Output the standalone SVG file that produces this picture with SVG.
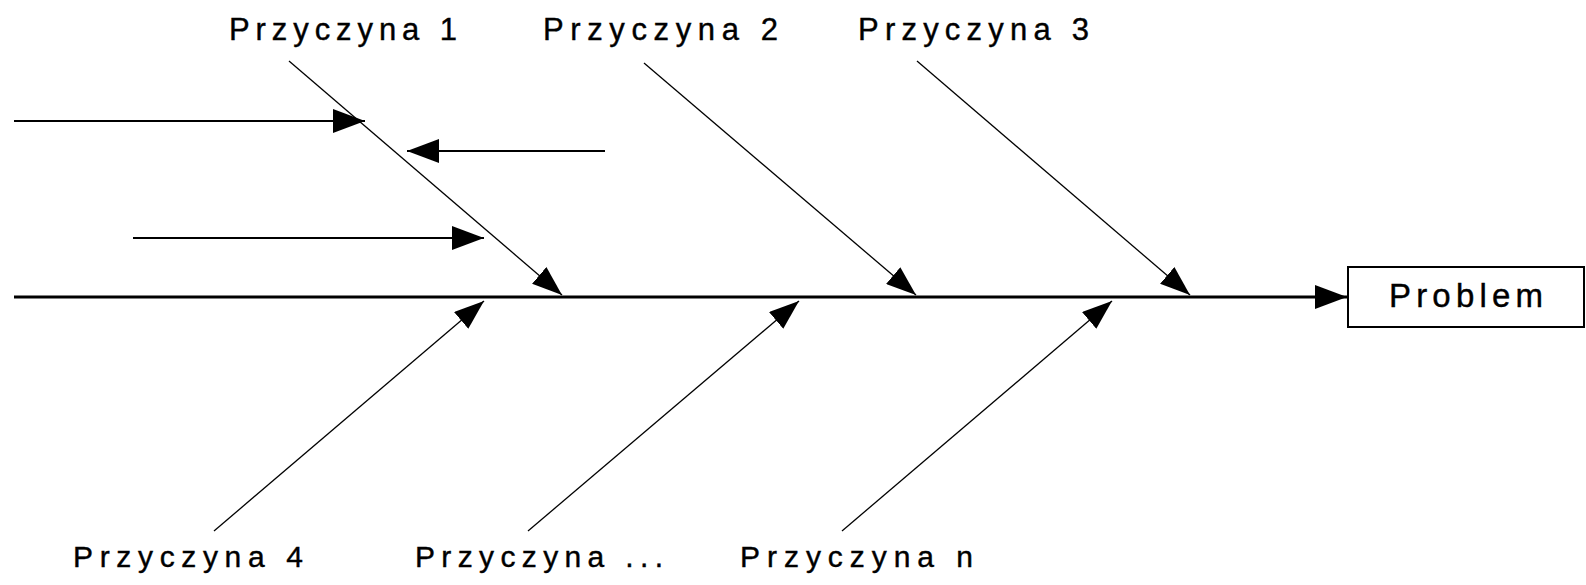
<svg xmlns="http://www.w3.org/2000/svg" width="1586" height="585" viewBox="0 0 1586 585">
<style>
.bg{fill:#ffffff}
.spine{stroke:#000;stroke-width:3;fill:none}
.h{stroke:#000;stroke-width:2;fill:none}
.d{stroke:#000;stroke-width:1.3;fill:none}
.box{fill:#fff;stroke:#000;stroke-width:2}
.lbl{font-family:"Liberation Sans",Arial,sans-serif;font-size:31px;fill:#000;stroke:#000;stroke-width:0.4}
.lblb{font-family:"Liberation Sans",Arial,sans-serif;font-size:30px;fill:#000;stroke:#000;stroke-width:0.4}
.prob{font-family:"Liberation Sans",Arial,sans-serif;font-size:33px;fill:#000;stroke:#000;stroke-width:0.4}
</style>
<defs>
<marker id="ah" viewBox="0 0 32 24" refX="32" refY="12" markerWidth="32" markerHeight="24" orient="auto" markerUnits="userSpaceOnUse">
<path d="M0,0 L32,12 L0,24 Z" fill="#000"/>
</marker>
<marker id="ahd" viewBox="0 0 30 22" refX="30" refY="11" markerWidth="30" markerHeight="22" orient="auto" markerUnits="userSpaceOnUse">
<path d="M0,0 L30,11 L0,22 Z" fill="#000"/>
</marker>
</defs>
<rect class="bg" x="0" y="0" width="1586" height="585"/>
<g id="connectors">
<line class="spine" x1="14" y1="297" x2="1347" y2="297" marker-end="url(#ah)"/>
<line class="h" x1="14" y1="121" x2="365" y2="121" marker-end="url(#ah)"/>
<line class="h" x1="605" y1="151" x2="407" y2="151" marker-end="url(#ah)"/>
<line class="h" x1="133" y1="238" x2="484" y2="238" marker-end="url(#ah)"/>
<line class="d" x1="289" y1="61" x2="562" y2="295" marker-end="url(#ahd)"/>
<line class="d" x1="644" y1="63" x2="916" y2="295" marker-end="url(#ahd)"/>
<line class="d" x1="917" y1="61" x2="1190" y2="295" marker-end="url(#ahd)"/>
<line class="d" x1="214" y1="531" x2="484" y2="301" marker-end="url(#ahd)"/>
<line class="d" x1="528" y1="531" x2="799" y2="301" marker-end="url(#ahd)"/>
<line class="d" x1="842" y1="531" x2="1112" y2="301" marker-end="url(#ahd)"/>
</g>
<g id="problem">
<rect class="box" x="1348" y="267" width="236" height="60"/>
<text class="prob" x="1389" y="307" textLength="154" lengthAdjust="spacing">Problem</text>
</g>
<g id="cause1"><text class="lbl" x="229" y="40" textLength="228" lengthAdjust="spacing">Przyczyna 1</text></g>
<g id="cause2"><text class="lbl" x="543" y="40" textLength="235" lengthAdjust="spacing">Przyczyna 2</text></g>
<g id="cause3"><text class="lbl" x="858" y="40" textLength="231" lengthAdjust="spacing">Przyczyna 3</text></g>
<g id="cause4"><text class="lblb" x="73" y="567" textLength="230" lengthAdjust="spacing">Przyczyna 4</text></g>
<g id="cause5"><text class="lblb" x="415" y="567" textLength="248" lengthAdjust="spacing">Przyczyna ...</text></g>
<g id="causen"><text class="lblb" x="740" y="567" textLength="233" lengthAdjust="spacing">Przyczyna n</text></g>
</svg>
